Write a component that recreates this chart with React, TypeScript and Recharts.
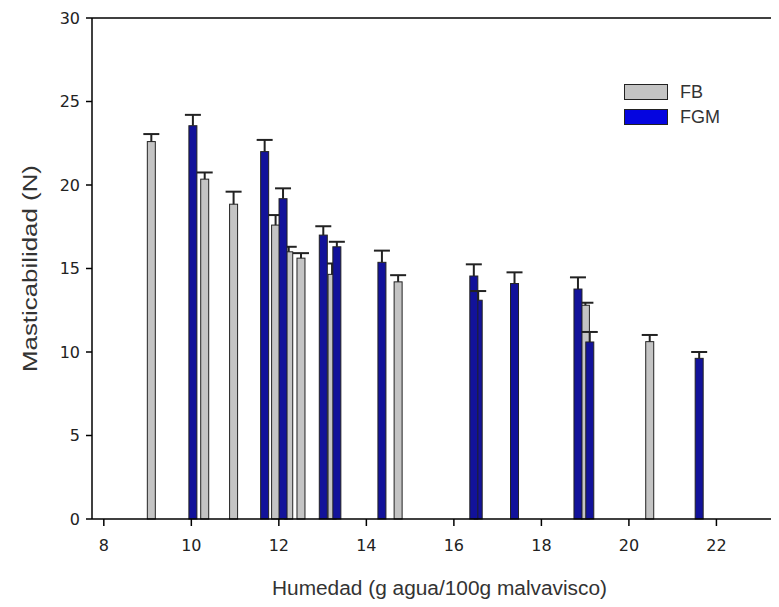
import {
  Bar,
  ComposedChart,
  Label,
  Legend,
  ReferenceLine,
  XAxis,
  YAxis,
} from "recharts";

// FB samples: humidity (g water/100 g), chewiness (N), upper error
const fbHumidity = [9.08, 10.3, 10.96, 11.92, 12.22, 12.5, 13.21, 14.72, 19.0, 20.47];
const fbChewiness = [22.6, 20.35, 18.85, 17.6, 16.0, 15.62, 14.65, 14.2, 12.8, 10.62];
const fbError = [0.45, 0.4, 0.75, 0.6, 0.3, 0.3, 0.65, 0.4, 0.15, 0.4];

// FGM samples (16.55 listed before 16.45 so the taller bar sits on top)
const fgmHumidity = [10.03, 11.67, 12.09, 13.01, 13.32, 14.35, 16.55, 16.45, 17.38, 18.83, 19.1, 21.6];
const fgmChewiness = [23.55, 22.0, 19.18, 17.0, 16.3, 15.37, 13.1, 14.55, 14.1, 13.77, 10.6, 9.62];
const fgmError = [0.65, 0.7, 0.62, 0.53, 0.3, 0.7, 0.55, 0.7, 0.67, 0.7, 0.6, 0.38];

const xTicks = [8, 10, 12, 14, 16, 18, 20, 22];
const yTicks = [0, 5, 10, 15, 20, 25, 30];

const FB_FILL = "#c4c4c4";
const FGM_FILL = "#12129a";
const FGM_SWATCH = "#0505e0";
const EDGE = "#222";
const BAR_W = 8;
const CAP_HALF = 8;
const FONT = "'Liberation Sans', Arial, sans-serif";
const TICK_FONT = "'DejaVu Sans', sans-serif";

const rows = [
  ...fbHumidity.map((x, i) => ({ x, fb: fbChewiness[i], fbErr: fbError[i] })),
  ...fgmHumidity.map((x, i) => ({ x, fgm: fgmChewiness[i], fgmErr: fgmError[i] })),
];

// narrow bar centred on its humidity value
function barShape(key: string, fill: string) {
  return (props: any) => {
    const { x, y, width, height, payload } = props;
    if (payload?.[key] == null || !(height > 0)) return <g />;
    const cx = x + width / 2;
    return (
      <rect
        x={cx - BAR_W / 2}
        y={y}
        width={BAR_W}
        height={height}
        fill={fill}
        stroke={EDGE}
        strokeWidth={1}
      />
    );
  };
}

// stacked segment drawn as an upper whisker with a cap
function whiskerShape(key: string) {
  return (props: any) => {
    const { x, y, width, height, payload } = props;
    if (payload?.[key] == null || !(height > 0)) return <g />;
    const cx = x + width / 2;
    return (
      <g stroke={EDGE} strokeWidth={2}>
        <line x1={cx} x2={cx} y1={y + height} y2={y} />
        <line x1={cx - CAP_HALF} x2={cx + CAP_HALF} y1={y} y2={y} />
      </g>
    );
  };
}

const legendItems = [
  { name: "FB", color: FB_FILL },
  { name: "FGM", color: FGM_SWATCH },
];

function LegendBox() {
  return (
    <div style={{ display: "flex", flexDirection: "column", gap: 9 }}>
      {legendItems.map((it) => (
        <div key={it.name} style={{ display: "flex", alignItems: "center", height: 16 }}>
          <span
            style={{
              display: "inline-block",
              width: 44,
              height: 16,
              boxSizing: "border-box",
              background: it.color,
              border: `1.5px solid ${EDGE}`,
            }}
          />
          <span
            style={{
              marginLeft: 12,
              fontFamily: FONT,
              fontSize: 18,
              color: "#333",
              lineHeight: "16px",
            }}
          >
            {it.name}
          </span>
        </div>
      ))}
    </div>
  );
}

export default function App() {
  return (
    <div style={{ width: 771, height: 599, background: "#fff" }}>
      <ComposedChart
        width={771}
        height={599}
        data={rows}
        margin={{ top: 10, right: 0, left: 0, bottom: 0 }}
      >
        <XAxis
          dataKey="x"
          type="number"
          domain={[7.73, 23.43]}
          ticks={xTicks}
          interval={0}
          allowDataOverflow
          height={88}
          stroke="#000"
          axisLine={{ strokeWidth: 1.5 }}
          tickLine={{ strokeWidth: 1.5 }}
          tickSize={7}
          tickMargin={14}
          tick={{ fill: "#222", fontSize: 16, fontFamily: TICK_FONT }}
        >
          <Label
            content={({ viewBox }: any) => (
              <text
                x={viewBox.x + viewBox.width / 2 + 4}
                y={viewBox.y + viewBox.height - 12}
                textAnchor="middle"
                fontFamily={FONT}
                fontSize={20}
                fill="#333"
                textLength={335}
                lengthAdjust="spacingAndGlyphs"
              >
                Humedad (g agua/100g malvavisco)
              </text>
            )}
          />
        </XAxis>
        <YAxis
          type="number"
          domain={[0, 30]}
          ticks={yTicks}
          interval={0}
          width={84}
          stroke="#000"
          axisLine={{ strokeWidth: 1.5 }}
          tickLine={{ strokeWidth: 1.5 }}
          tickSize={6}
          tickMargin={6}
          tick={{ fill: "#222", fontSize: 16, fontFamily: TICK_FONT }}
        >
          <Label
            content={({ viewBox }: any) => {
              const cx = 29;
              const cy = viewBox.y + viewBox.height / 2;
              return (
                <text
                  x={cx}
                  y={cy}
                  transform={`rotate(-90 ${cx} ${cy})`}
                  textAnchor="middle"
                  fontFamily={FONT}
                  fontSize={20}
                  fill="#333"
                  textLength={207}
                  lengthAdjust="spacingAndGlyphs"
                >
                  Masticabilidad (N)
                </text>
              );
            }}
          />
        </YAxis>
        <ReferenceLine y={30} stroke="#000" strokeWidth={1.5} />
        <Legend
          layout="horizontal"
          verticalAlign="middle"
          align="center"
          content={() => <LegendBox />}
          wrapperStyle={{ top: 76, left: 616, width: 130, height: 41 }}
        />
        <Bar dataKey="fb" stackId="s" name="FB" shape={barShape("fb", FB_FILL)} isAnimationActive={false} legendType="none" />
        <Bar dataKey="fbErr" stackId="s" shape={whiskerShape("fbErr")} isAnimationActive={false} legendType="none" />
        <Bar dataKey="fgm" stackId="s" name="FGM" shape={barShape("fgm", FGM_FILL)} isAnimationActive={false} legendType="none" />
        <Bar dataKey="fgmErr" stackId="s" shape={whiskerShape("fgmErr")} isAnimationActive={false} legendType="none" />
      </ComposedChart>
    </div>
  );
}
